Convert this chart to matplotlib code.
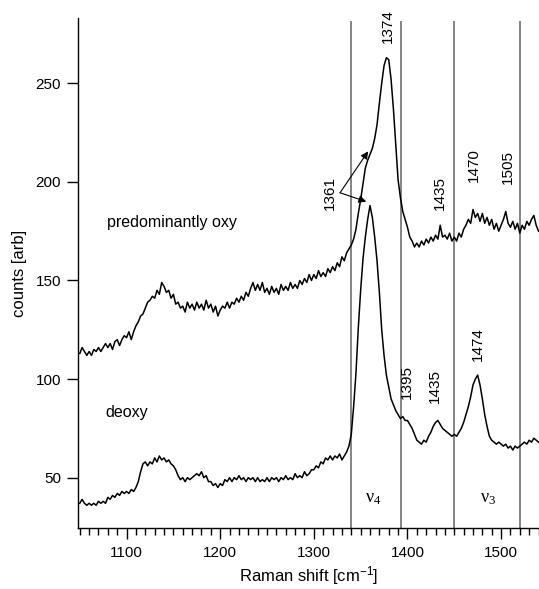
import matplotlib
matplotlib.use('Agg')
import matplotlib.pyplot as plt

plt.rcParams['font.family'] = ['Liberation Sans', 'DejaVu Sans']

# Raman shift grid [cm-1], one row per 25 cm-1
shift = [1050, 1052.5, 1055, 1057.5, 1060, 1062.5, 1065, 1067.5, 1070, 1072.5,
         1075, 1077.5, 1080, 1082.5, 1085, 1087.5, 1090, 1092.5, 1095, 1097.5,
         1100, 1102.5, 1105, 1107.5, 1110, 1112.5, 1115, 1117.5, 1120, 1122.5,
         1125, 1127.5, 1130, 1132.5, 1135, 1137.5, 1140, 1142.5, 1145, 1147.5,
         1150, 1152.5, 1155, 1157.5, 1160, 1162.5, 1165, 1167.5, 1170, 1172.5,
         1175, 1177.5, 1180, 1182.5, 1185, 1187.5, 1190, 1192.5, 1195, 1197.5,
         1200, 1202.5, 1205, 1207.5, 1210, 1212.5, 1215, 1217.5, 1220, 1222.5,
         1225, 1227.5, 1230, 1232.5, 1235, 1237.5, 1240, 1242.5, 1245, 1247.5,
         1250, 1252.5, 1255, 1257.5, 1260, 1262.5, 1265, 1267.5, 1270, 1272.5,
         1275, 1277.5, 1280, 1282.5, 1285, 1287.5, 1290, 1292.5, 1295, 1297.5,
         1300, 1302.5, 1305, 1307.5, 1310, 1312.5, 1315, 1317.5, 1320, 1322.5,
         1325, 1327.5, 1330, 1332.5, 1335, 1337.5, 1340, 1342.5, 1345, 1347.5,
         1350, 1352.5, 1355, 1357.5, 1360, 1362.5, 1365, 1367.5, 1370, 1372.5,
         1375, 1377.5, 1380, 1382.5, 1385, 1387.5, 1390, 1392.5, 1395, 1397.5,
         1400, 1402.5, 1405, 1407.5, 1410, 1412.5, 1415, 1417.5, 1420, 1422.5,
         1425, 1427.5, 1430, 1432.5, 1435, 1437.5, 1440, 1442.5, 1445, 1447.5,
         1450, 1452.5, 1455, 1457.5, 1460, 1462.5, 1465, 1467.5, 1470, 1472.5,
         1475, 1477.5, 1480, 1482.5, 1485, 1487.5, 1490, 1492.5, 1495, 1497.5,
         1500, 1502.5, 1505, 1507.5, 1510, 1512.5, 1515, 1517.5, 1520, 1522.5,
         1525, 1527.5, 1530, 1532.5, 1535, 1537.5, 1540]

oxy = [113, 116, 114, 112, 114, 112, 115, 114, 116, 114,
       116, 118, 116, 118, 115, 119, 120, 117, 120, 122,
       121, 124, 120, 124, 127, 129, 132, 133, 136, 139,
       140, 142, 141, 145, 143, 149, 147, 144, 145, 141,
       143, 138, 139, 136, 137, 134, 139, 136, 138, 135,
       139, 136, 138, 135, 140, 136, 138, 134, 137, 132,
       135, 137, 136, 139, 136, 139, 138, 141, 139, 142,
       140, 144, 142, 146, 149, 145, 148, 145, 149, 144,
       146, 143, 147, 144, 146, 143, 148, 145, 147, 145,
       149, 146, 148, 146, 150, 148, 151, 149, 153, 150,
       153, 151, 155, 152, 154, 152, 156, 154, 157, 155,
       159, 157, 162, 160, 164, 166, 168, 171, 176, 184,
       191, 199, 207, 211, 214, 217, 222, 229, 240, 250,
       259, 263, 262, 252, 237, 219, 201, 192, 185, 181,
       177, 172, 170, 167, 169, 167, 170, 168, 171, 169,
       172, 170, 173, 171, 178, 172, 173, 171, 174, 170,
       172, 170, 174, 172, 176, 178, 181, 179, 186, 182,
       184, 180, 184, 179, 182, 178, 181, 176, 179, 175,
       178, 181, 185, 179, 177, 180, 176, 179, 174, 178,
       176, 180, 178, 181, 183, 178, 175]

deoxy = [37, 39, 37, 36, 37, 36, 37, 36, 38, 37,
         38, 37, 40, 39, 41, 40, 42, 41, 43, 42,
         43, 42, 44, 43, 45, 48, 53, 57, 58, 56,
         58, 57, 60, 58, 61, 59, 60, 58, 59, 57,
         56, 54, 51, 49, 50, 48, 50, 49, 50, 51,
         52, 51, 53, 50, 51, 48, 48, 46, 47, 45,
         47, 46, 49, 48, 50, 48, 50, 49, 51, 49,
         50, 48, 50, 49, 50, 48, 50, 48, 49, 48,
         50, 48, 50, 49, 50, 48, 50, 49, 51, 49,
         50, 49, 52, 50, 51, 50, 53, 51, 52, 54,
         54, 56, 55, 58, 57, 60, 59, 61, 59, 61,
         60, 62, 59, 61, 63, 66, 72, 86, 103, 126,
         145, 161, 172, 181, 188, 182, 172, 160, 144, 125,
         112, 102, 96, 90, 87, 84, 82, 80, 81, 79,
         79, 77, 75, 72, 69, 68, 67, 69, 68, 71,
         73, 76, 78, 79, 77, 75, 74, 73, 72, 71,
         72, 71, 73, 75, 78, 82, 86, 91, 97, 100,
         102, 97, 90, 82, 76, 71, 69, 68, 67, 68,
         67, 66, 67, 65, 66, 64, 66, 65, 66, 67,
         68, 67, 69, 68, 70, 69, 68]

band_lines = [1340, 1393, 1450, 1520]

# peak labels: (text, x, y)
peak_labels = [('1374', 1379, 279), ('1435', 1434.7, 194.4),
               ('1470', 1471.4, 208.7), ('1505', 1507.7, 207.5),
               ('1395', 1399, 98.3), ('1435', 1429.4, 96.3),
               ('1474', 1475.6, 118)]

fig = plt.figure(figsize=(5.39, 5.89), dpi=100)
ax = fig.add_axes([0.144, 0.103, 0.856, 0.866])

ax.set_xlim(1047.7, 1540.5)
ax.set_ylim(24.3, 283)

ax.vlines(band_lines, 24.3, 281.8, colors='#707070', lw=1.2, zorder=1)

ax.plot(shift, oxy, color='black', lw=1.1, zorder=3)
ax.plot(shift, deoxy, color='black', lw=1.1, zorder=3)

for txt, x, y in peak_labels:
    ax.text(x, y, txt, rotation=90, ha='center', va='center', fontsize=11)

# 1361 with two arrows
ax.text(1317, 194.5, '1361', rotation=90, ha='center', va='center', fontsize=11)
arr = dict(arrowstyle='-|>', color='black', lw=0.8, mutation_scale=11,
           shrinkA=0, shrinkB=0)
ax.annotate('', xy=(1358, 215.5), xytext=(1328, 194.5), arrowprops=arr)
ax.annotate('', xy=(1356, 190), xytext=(1328, 194.5), arrowprops=arr)

# band names in upright serif
ax.text(1363.5, 39.5, r'$\mathregular{ν_4}$', ha='center', va='center',
        fontsize=13, family=['Liberation Serif', 'DejaVu Serif'])
ax.text(1486.3, 39.5, r'$\mathregular{ν_3}$', ha='center', va='center',
        fontsize=13, family=['Liberation Serif', 'DejaVu Serif'])

ax.text(1079, 179.6, 'predominantly oxy', ha='left', va='center', fontsize=11.5)
ax.text(1077, 83, 'deoxy', ha='left', va='center', fontsize=11.5)

ax.spines['top'].set_visible(False)
ax.spines['right'].set_visible(False)
ax.spines['left'].set_linewidth(1.0)
ax.spines['bottom'].set_linewidth(1.0)

ax.set_xticks([1100, 1200, 1300, 1400, 1500])
ax.set_xticks(range(1050, 1541, 10), minor=True)
ax.set_yticks([50, 100, 150, 200, 250])
ax.tick_params(axis='x', which='major', length=8, width=1.0, labelsize=11, pad=5)
ax.tick_params(axis='x', which='minor', length=5, width=1.0)
ax.tick_params(axis='y', which='major', length=8, width=1.0, labelsize=11, pad=4)

ax.set_xlabel('Raman shift [cm$\\mathregular{^{-1}}$]', fontsize=12, labelpad=3)
ax.set_ylabel('counts [arb]', fontsize=12, labelpad=6)

fig.savefig('out.png', dpi=100)
